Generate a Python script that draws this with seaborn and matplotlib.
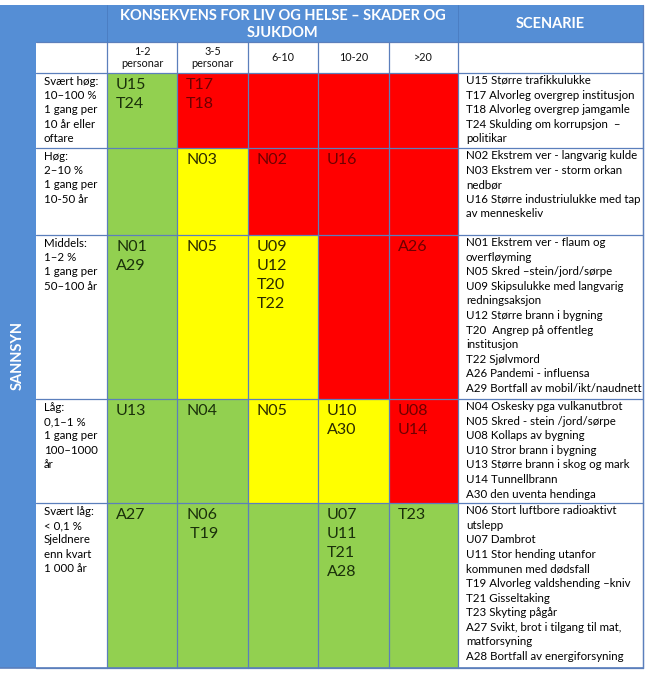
import matplotlib
matplotlib.use("Agg")
import matplotlib.pyplot as plt
import numpy as np
import seaborn as sns
from matplotlib.colors import ListedColormap
from matplotlib.patches import Rectangle

# --- data -------------------------------------------------------------
consequence_labels = ["1-2\npersonar", "3-5\npersonar", "6-10", "10-20", ">20"]

likelihood_labels = [
    "Svært høg:\n10–100 %\n1 gang per\n10 år eller\noftare",
    "Høg:\n2–10 %\n1 gang per\n10-50 år",
    "Middels:\n1–2 %\n1 gang per\n50–100 år",
    "Låg:\n0,1–1 %\n1 gang per\n100–1000\når",
    "Svært låg:\n< 0,1 %\nSjeldnere\nenn kvart\n1 000 år",
]

# 0 = green, 1 = yellow, 2 = red
risk_levels = [
    [0, 2, 2, 2, 2],
    [0, 1, 2, 2, 2],
    [0, 1, 1, 2, 2],
    [0, 0, 1, 1, 2],
    [0, 0, 0, 0, 0],
]

cell_codes = [
    ["U15\nT24", "T17\nT18", "", "", ""],
    ["", "N03", "N02", "U16", ""],
    ["N01\nA29", "N05", "U09\nU12\nT20\nT22", "", "A26"],
    ["U13", "N04", "N05", "U10\nA30", "U08\nU14"],
    ["A27", "N06\n T19", "", "U07\nU11\nT21\nA28", "T23"],
]

scenario_texts = [
    "U15 Større trafikkulukke\nT17 Alvorleg overgrep institusjon\n"
    "T18 Alvorleg overgrep jamgamle\nT24 Skulding om korrupsjon  –\npolitikar",
    "N02 Ekstrem ver - langvarig kulde\nN03 Ekstrem ver - storm orkan\nnedbør\n"
    "U16 Større industriulukke med tap\nav menneskeliv",
    "N01 Ekstrem ver - flaum og\noverfløyming\nN05 Skred –stein/jord/sørpe\n"
    "U09 Skipsulukke med langvarig\nredningsaksjon\nU12 Større brann i bygning\n"
    "T20  Angrep på offentleg\ninstitusjon\nT22 Sjølvmord\nA26 Pandemi - influensa\n"
    "A29 Bortfall av mobil/ikt/naudnett",
    "N04 Oskesky pga vulkanutbrot\nN05 Skred - stein /jord/sørpe\nU08 Kollaps av bygning\n"
    "U10 Stror brann i bygning\nU13 Større brann i skog og mark\nU14 Tunnellbrann\n"
    "A30 den uventa hendinga",
    "N06 Stort luftbore radioaktivt\nutslepp\nU07 Dambrot\nU11 Stor hending utanfor\n"
    "kommunen med dødsfall\nT19 Alvorleg valdshending –kniv\nT21 Gisseltaking\n"
    "T23 Skyting pågår\nA27 Svikt, brot i tilgang til mat,\nmatforsyning\n"
    "A28 Bortfall av energiforsyning",
]

title = "KONSEKVENS FOR LIV OG HELSE – SKADER OG\nSJUKDOM"
scenario_title = "SCENARIE"
side_title = "SANNSYN"

# --- style / layout (pixels) -----------------------------------------
BLUE = "#558ED5"
LINE = "#5B7FBC"
level_colors = ["#92D050", "#FFFF00", "#FF0000"]
code_colors = ["#1A300A", "#2A2A00", "#6E0000"]

W, H = 650, 676
x_lab, x_right = 36, 643
col_edges = [107, 177, 248, 318, 389, 458]
row_edges = [73, 148, 235, 399, 503, 668]
y_top, y_head = 5, 42

sns.set_style("white")
plt.rcParams["font.family"] = ["Lato", "DejaVu Sans"]

fig = plt.figure(figsize=(W / 100, H / 100), dpi=100)

# background pieces
ax = fig.add_axes([0, 0, 1, 1])
ax.set_xlim(0, W)
ax.set_ylim(H, 0)
ax.axis("off")
ax.add_patch(Rectangle((0, y_top), x_right, y_head - y_top, color=BLUE, lw=0))
ax.add_patch(Rectangle((0, y_top), x_lab, row_edges[-1] - y_top, color=BLUE, lw=0))

# risk matrix via seaborn heatmap; rows/cols expanded to pixel sizes
row_h = np.diff(row_edges)
col_w = np.diff(col_edges)
grid = np.repeat(np.repeat(np.array(risk_levels), row_h, axis=0), col_w, axis=1)
hax = fig.add_axes([
    col_edges[0] / W,
    1 - row_edges[-1] / H,
    (col_edges[-1] - col_edges[0]) / W,
    (row_edges[-1] - row_edges[0]) / H,
])
sns.heatmap(grid, ax=hax, cmap=ListedColormap(level_colors), vmin=-0.5, vmax=2.5,
            cbar=False, xticklabels=False, yticklabels=False, rasterized=True)
hax.axis("off")

# overlay for lines and text
top = fig.add_axes([0, 0, 1, 1])
top.set_xlim(0, W)
top.set_ylim(H, 0)
top.axis("off")
top.patch.set_alpha(0)

lw = 0.9
for y in [y_head] + row_edges:
    top.plot([x_lab, x_right], [y, y], color=LINE, lw=lw)
for x in col_edges + [x_right]:
    top.plot([x, x], [y_head, row_edges[-1]], color=LINE, lw=lw)
for x in [col_edges[0], col_edges[-1]]:
    top.plot([x, x], [y_top, y_head], color="#4A7CC0", lw=0.6)
top.plot([x_right, x_right], [y_top, row_edges[-1]], color=LINE, lw=lw)
top.plot([0, x_right], [row_edges[-1], row_edges[-1]], color=LINE, lw=1.2)

# headers
top.text((col_edges[0] + col_edges[-1]) / 2, (y_top + y_head) / 2 + 1, title,
         ha="center", va="center", color="white", fontsize=10.5, fontweight="bold",
         linespacing=1.2)
top.text((col_edges[-1] + x_right) / 2, (y_top + y_head) / 2, scenario_title,
         ha="center", va="center", color="white", fontsize=10.5, fontweight="bold")
top.text(x_lab / 2, 355, side_title, rotation=90, ha="center", va="center",
         color="white", fontsize=10.5, fontweight="bold")

for j, lab in enumerate(consequence_labels):
    top.text((col_edges[j] + col_edges[j + 1]) / 2, (y_head + row_edges[0]) / 2, lab,
             ha="center", va="center", fontsize=7.8, color="#111111", linespacing=1.2)

for i in range(len(likelihood_labels)):
    y0 = row_edges[i]
    top.text(44, y0 + 3, likelihood_labels[i], ha="left", va="top",
             fontsize=8.3, color="#000000", linespacing=1.36)
    top.text(466, y0 + 2, scenario_texts[i], ha="left", va="top",
             fontsize=8.3, color="#000000", linespacing=1.4)
    for j in range(5):
        code = cell_codes[i][j]
        if code:
            top.text(col_edges[j] + 9, y0 + 5, code, ha="left", va="top",
                     fontsize=11.5, color=code_colors[risk_levels[i][j]],
                     linespacing=1.45)

fig.savefig("out.png", dpi=100)
